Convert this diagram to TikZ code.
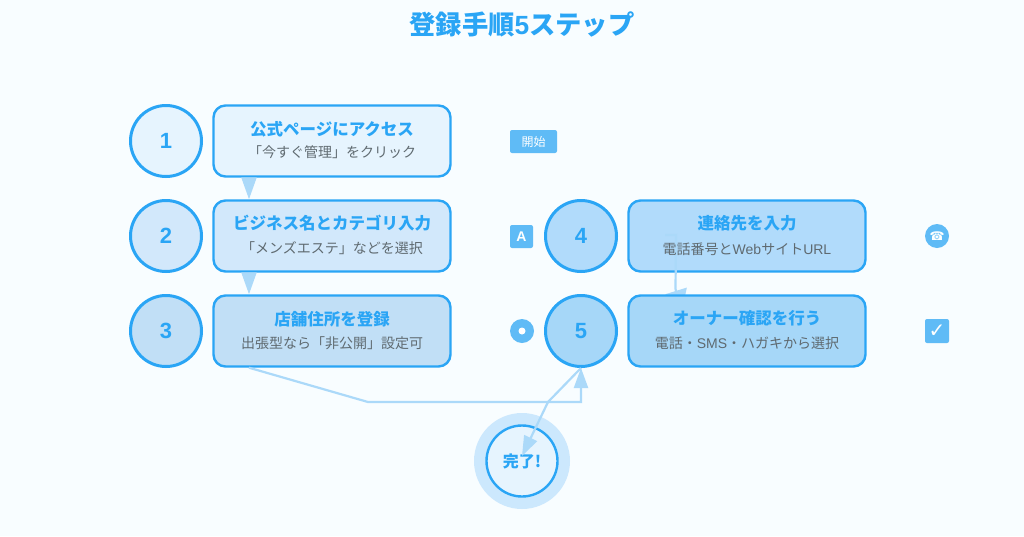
\documentclass[tikz,border=0pt]{standalone}
\usepackage{fontspec}
\setmainfont{Liberation Sans}
\newfontfamily\cjk{Noto Sans CJK JP}
\newfontfamily\symb{DejaVu Sans}
\usetikzlibrary{arrows.meta}
\definecolor{bgblue}{HTML}{F8FDFF}
\definecolor{lineblue}{HTML}{2AA5F5}
\definecolor{arrowblue}{HTML}{ABD9F9}
\definecolor{iconblue}{HTML}{5FBBF6}
\definecolor{subgray}{HTML}{5F6A70}
\definecolor{haloblue}{HTML}{CCE8FD}
\definecolor{fillA}{HTML}{E6F4FE}
\definecolor{fillB}{HTML}{D2E8FB}
\definecolor{fillC}{HTML}{C1DFF6}
\definecolor{fillD}{HTML}{B1DBFB}
\definecolor{fillE}{HTML}{A6D7F8}

\begin{document}
\begin{tikzpicture}[x=1pt,y=-1pt]
	\tikzstyle{num circle}=[circle,draw=lineblue,line width=3pt,minimum size=71pt,inner sep=0pt,font=\bfseries\fontsize{22}{22}\selectfont,text=lineblue]
	\tikzstyle{step box}=[rectangle,rounded corners=12pt,draw=lineblue,line width=2.4pt,minimum width=237pt,minimum height=71pt,inner sep=0pt]
	\tikzstyle{head}=[font=\cjk\bfseries\fontsize{16.5}{16.5}\selectfont,text=lineblue]
	\tikzstyle{sub}=[font=\cjk\fontsize{14}{14}\selectfont,text=subgray]
	\tikzstyle{icon}=[fill=iconblue,inner sep=0pt,text=white]
	\tikzstyle{flow}=[draw=arrowblue,line width=2.2pt,-{Triangle[length=20pt,width=14pt]}]
	\tikzstyle{flow down}=[draw=arrowblue,line width=2.2pt,-{Triangle[length=22pt,width=15pt]}]
	\tikzstyle{flow wide}=[draw=arrowblue,line width=2.2pt,-{Triangle[length=20pt,width=22pt]}]

	\useasboundingbox[fill=bgblue] (0,0) rectangle (1024,536);

	\node[font=\cjk\bfseries\fontsize{26.3}{26.3}\selectfont,text=lineblue] (title) at (522,24) {登録手順{\rmfamily 5}ステップ};

	% Draw the number circles
	\foreach \name / \col / \x / \y in {1/fillA/166/141,2/fillB/166/236,3/fillC/166/331,4/fillD/581/236,5/fillE/581/331}
	\node[num circle,fill=\col] (N-\name) at (\x,\y) {\name};

	% Draw the boxes
	\foreach \name / \col / \x / \y in {1/fillA/332/141,2/fillB/332/236,3/fillC/332/331,4/fillD/747/236}
	\node[step box,fill=\col] (S-\name) at (\x,\y) {};

	% Connect box 4 to box 5, whose tip stays under box 5
	\coordinate (A-5) at (665,235);
	\coordinate (B-5) at (676,235);
	\coordinate (C-5) at (675.5,289);
	\coordinate (D-5) at (682,310);
	\draw[flow wide] (A-5) -- (B-5) -- (C-5) -- (D-5);
	\node[step box,fill=fillE] (S-5) at (747,331) {};

	% Box texts
	\node[head] (H-1) at (332,129) {公式ページにアクセス};
	\node[sub] (T-1) at (332,152.5) {「今すぐ管理」をクリック};
	\node[head] (H-2) at (332,223) {ビジネス名とカテゴリ入力};
	\node[sub] (T-2) at (332,248.5) {「メンズエステ」などを選択};
	\node[head] (H-3) at (332,319) {店舗住所を登録};
	\node[sub] (T-3) at (332,343.5) {出張型なら「非公開」設定可};
	\node[head] (H-4) at (747,223) {連絡先を入力};
	\node[sub] (T-4) at (747,249) {電話番号と{\rmfamily Web}サイト{\rmfamily URL}};
	\node[head] (H-5) at (747,318) {オーナー確認を行う};
	\node[sub] (T-5) at (747,343.5) {電話・{\rmfamily SMS}・ハガキから選択};

	% Draw the icons
	\node[icon,rounded corners=2pt,minimum width=47pt,minimum height=23pt,font=\cjk\fontsize{12}{12}\selectfont] (start) at (533.5,141.5) {開始};
	\node[icon,rounded corners=2pt,minimum size=23pt,font=\bfseries\fontsize{14}{14}\selectfont] (letter) at (521.5,236.5) {A};
	\node[icon,circle,minimum size=24pt] (pin) at (522,331) {};
	\node[circle,fill=white,minimum size=7pt,inner sep=0pt] (pin dot) at (pin) {};
	\node[icon,circle,minimum size=24pt,font=\symb\fontsize{12}{12}\selectfont] (phone) at (937,236) {☎};
	\node[icon,rounded corners=2pt,minimum size=24pt,font=\symb\fontsize{20}{20}\selectfont] (check) at (937,331) {✓};

	% Draw the end circle
	\node[circle,fill=haloblue,minimum size=96pt,inner sep=0pt] (halo) at (522,461) {};
	\node[circle,draw=lineblue,line width=2.4pt,fill=fillA,minimum size=71pt,inner sep=0pt,font=\cjk\bfseries\fontsize{16}{16}\selectfont,text=lineblue] (done) at (halo) {完了!};

	% Connect the steps
	\draw[flow down] (S-1.south -| 249,0) -- (S-2.north -| 249,0);
	\draw[flow down] (S-2.south -| 249,0) -- (S-3.north -| 249,0);
	\coordinate (E-3) at (368,402);
	\coordinate (F-3) at (581,402);
	\draw[flow] (S-3.south -| 249,0) -- (E-3) -- (F-3) -- (N-5.south);
	\coordinate (G-5) at (548,402);
	\coordinate (J-5) at (522,456);
	\draw[flow] (N-5.south) -- (G-5) -- (J-5);
\end{tikzpicture}
\end{document}
